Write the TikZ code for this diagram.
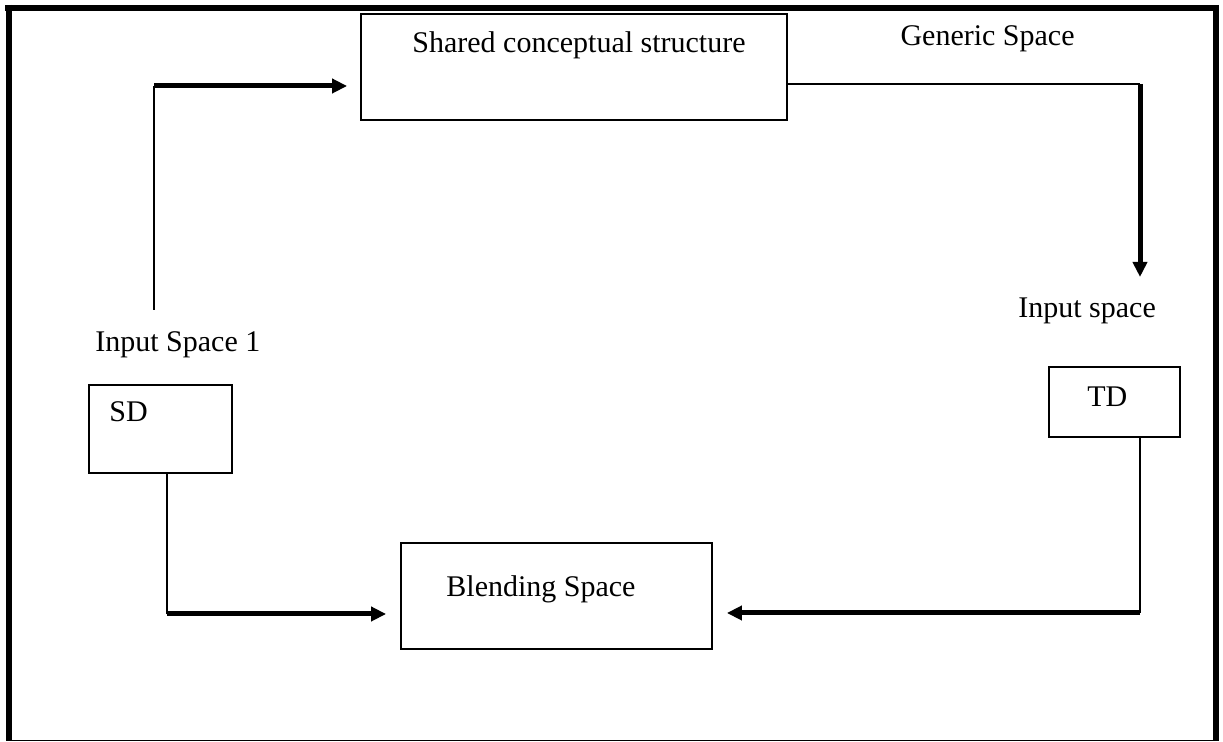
\documentclass[tikz,border=0pt]{standalone}
\usepackage{fontspec}
\setmainfont{Liberation Serif}
\usetikzlibrary{arrows.meta,positioning}

\tikzset{
	box/.style = {draw, line width=0.9pt, inner sep=0pt},
	label text/.style = {inner sep=0pt, font=\fontsize{15}{18}\selectfont},
	thin link/.style = {draw, line width=0.9pt},
	thick link/.style = {draw, line width=2.5pt, -{Triangle[length=7.5pt,width=7pt]}},
	frame/.style = {draw, line width=3pt},
}

\begin{document}
\begin{tikzpicture}[x=0.5pt,y=-0.5pt]
		\useasboundingbox (0,0) rectangle (1223,742);
		% outer frame
		\path [frame] (5,8) -- (1219,8);
		\path [frame] (8.5,5) -- (8.5,741);
		\path [frame] (1216,5) -- (1216,741);
		\path [draw,line width=0.9pt] (8.5,740.5) -- (1216,740.5);
		% boxes
		\node (shared) at (574,67) [box,minimum width=213pt,minimum height=53pt] {};
		\node (sd) at (160.5,429) [box,minimum width=71.5pt,minimum height=44pt] {};
		\node (td) at (1114.5,402) [box,minimum width=65.5pt,minimum height=35pt] {};
		\node (blend) at (556.5,596) [box,minimum width=155.5pt,minimum height=53pt] {};
		% texts
		\node (sharedtext) at (412,53) [label text,anchor=base west] {Shared conceptual structure};
		\node (generic) at (1075,46) [label text,anchor=base east] {Generic Space};
		\node (input2) at (1018,318) [label text,anchor=base west] {Input space};
		\node (input1) at (95,352) [label text,anchor=base west] {Input Space 1};
		\node (sdtext) at (109,422) [label text,anchor=base west] {SD};
		\node (tdtext) at (1087,407) [label text,anchor=base west] {TD};
		\node (blendtext) at (446,597) [label text,anchor=base west] {Blending Space};
		% connectors
		\coordinate (start) at (154,310);
		\coordinate (c1) at (154,86);
		\path [thin link] (start) -- (c1);
		\path [thick link,shorten >=6.5pt] (c1) -- (c1 -| shared.west);
		\coordinate (c2) at (1140,84);
		\coordinate (end) at (1140,277);
		\path [thin link] (c2 -| shared.east) -- (c2);
		\path [thick link] (c2) -- (end);
		\coordinate (c3) at (1140,613);
		\path [thin link] (td.south -| c3) -- (c3);
		\path [thick link,shorten >=7pt] (c3) -- (c3 -| blend.east);
		\coordinate (c4) at (167,614);
		\path [thin link] (sd.south -| c4) -- (c4);
		\path [thick link,shorten >=7pt] (c4) -- (c4 -| blend.west);
	\end{tikzpicture}
\end{document}
